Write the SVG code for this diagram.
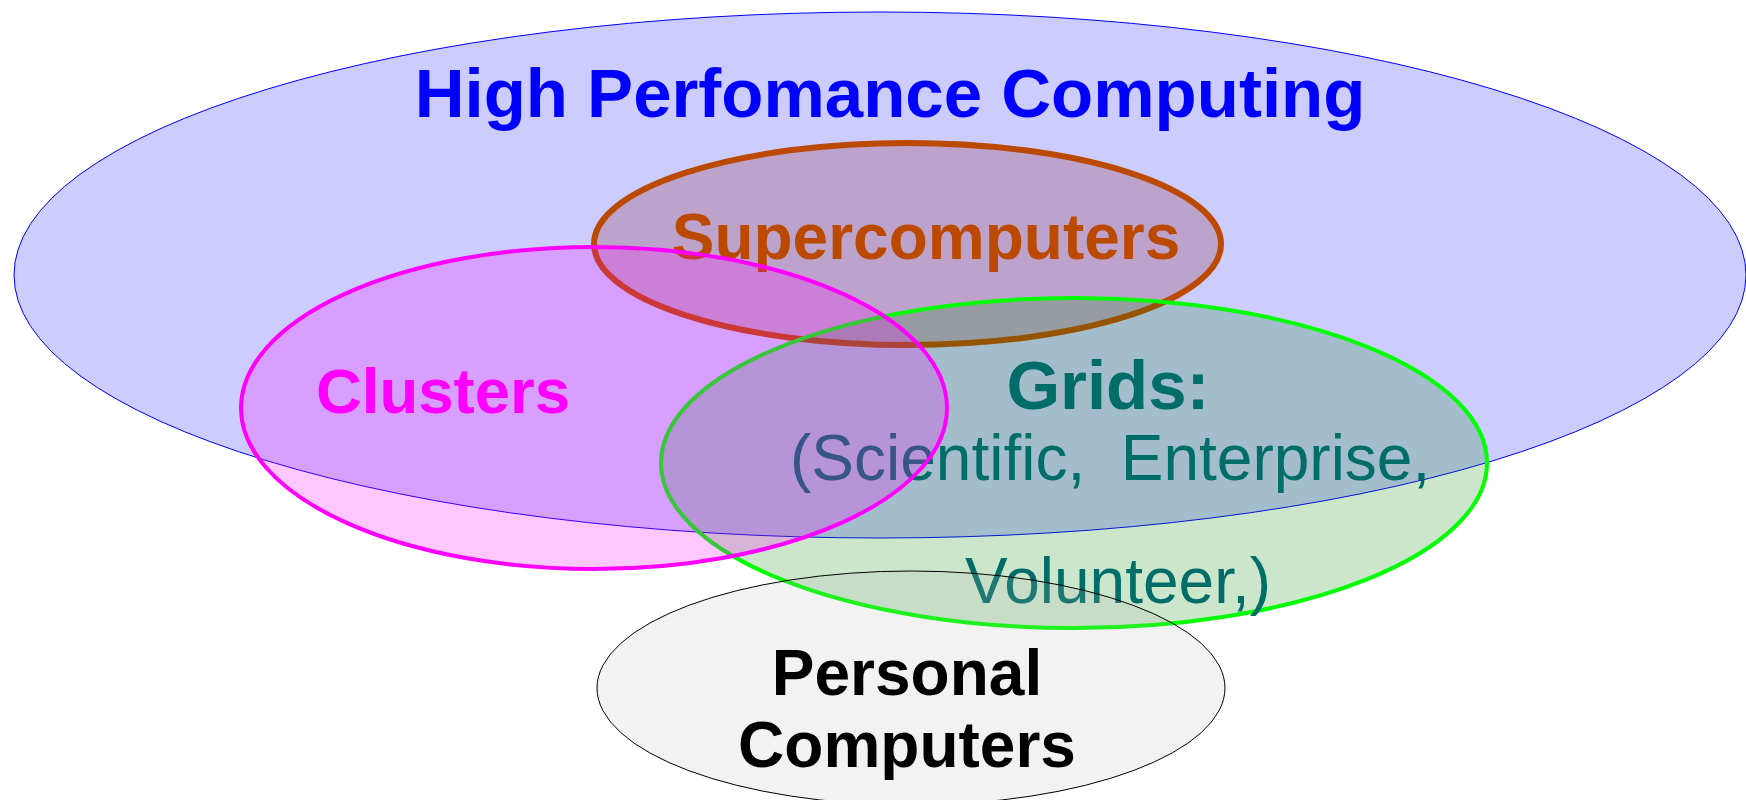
<svg xmlns="http://www.w3.org/2000/svg" width="1746" height="800" viewBox="0 0 1746 800">
<style>
.b{font-family:"Liberation Sans",Arial,sans-serif;font-weight:bold;}
.r{font-family:"Liberation Sans",Arial,sans-serif;font-weight:normal;white-space:pre;}
</style>
<rect x="0" y="0" width="1746" height="800" fill="#FFFFFF"/>
<g id="hpc">
<ellipse cx="880" cy="275" rx="866" ry="263" fill="#CCCCFF" stroke="#0000FF" stroke-width="1"/>
<text class="b" x="890" y="117" font-size="69" fill="#0000FF" text-anchor="middle">High Perfomance Computing</text>
</g>
<g id="supercomputers">
<ellipse cx="907.5" cy="244" rx="313.5" ry="101" fill="#800000" fill-opacity="0.2" stroke="#BB4A00" stroke-width="6"/>
<text class="b" x="926" y="259" font-size="64" fill="#BB4A00" text-anchor="middle">Supercomputers</text>
</g>
<g id="grids">
<ellipse cx="1074" cy="463" rx="413" ry="165" fill="#008000" fill-opacity="0.2" stroke="#00FF00" stroke-width="4"/>
<text class="b" x="1108" y="409" font-size="69" fill="#006D68" text-anchor="middle">Grids:</text>
<text class="r" x="790" y="480" font-size="64" fill="#006D68" xml:space="preserve">(Scientific,  Enterprise,</text>
<text class="r" x="965" y="603" font-size="64" fill="#006D68">Volunteer,)</text>
</g>
<g id="clusters">
<ellipse cx="594" cy="408" rx="353" ry="161" fill="#FF00FF" fill-opacity="0.22" stroke="#FF00FF" stroke-width="4"/>
<text class="b" x="443" y="413" font-size="63.5" fill="#FF00FF" text-anchor="middle">Clusters</text>
</g>
<g id="personal">
<ellipse cx="911" cy="688" rx="314" ry="117" fill="#B3B3B3" fill-opacity="0.17" stroke="#000000" stroke-width="1"/>
<text class="b" x="907" y="695" font-size="64" fill="#000000" text-anchor="middle">Personal</text>
<text class="b" x="907" y="767" font-size="64" fill="#000000" text-anchor="middle">Computers</text>
</g>
<g id="connectors"/>
</svg>
